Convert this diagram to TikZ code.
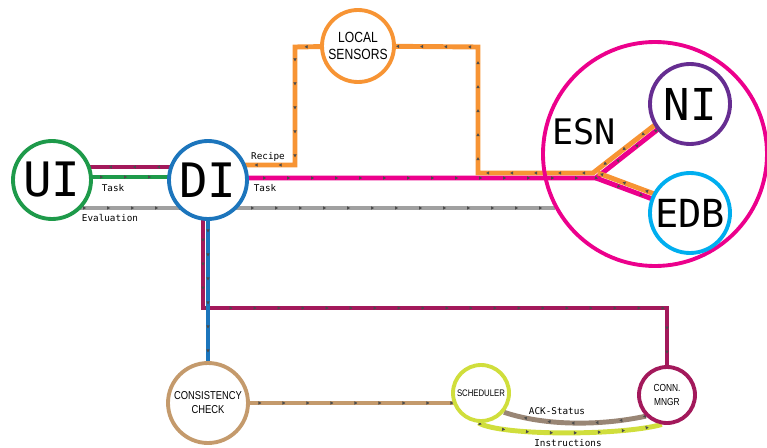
\documentclass[tikz,border=0pt]{standalone}
\usepackage{fontspec}
\setmonofont{DejaVu Sans Mono}
\newfontfamily\narrowfont[FakeStretch=0.82]{Liberation Sans}
\usetikzlibrary{arrows.meta, decorations.markings, backgrounds}
\definecolor{uigreen}{RGB}{30,154,74}
\definecolor{diblue}{RGB}{28,117,188}
\definecolor{lsorange}{RGB}{247,148,52}
\definecolor{esnpink}{RGB}{236,0,140}
\definecolor{maroon}{RGB}{163,25,91}
\definecolor{nipurple}{RGB}{102,45,145}
\definecolor{edbcyan}{RGB}{0,174,239}
\definecolor{evalgray}{RGB}{160,160,160}
\definecolor{cctan}{RGB}{196,154,108}
\definecolor{schlime}{RGB}{208,222,60}
\definecolor{ackbrown}{RGB}{153,134,117}
\tikzstyle{station} = [circle, draw, line width = 2.2pt, fill = white, text centered, inner sep = 0pt]
\tikzstyle{big} = [font = \ttfamily\fontsize{27}{27}\selectfont]
\tikzstyle{small} = [font = \narrowfont\fontsize{8.4}{9.4}\selectfont, align = center]
\tikzstyle{tag} = [font = \ttfamily\fontsize{5.3}{6}\selectfont, inner sep = 0pt]
\tikzstyle{flow} = [line width = 2.8pt, postaction = {decorate}, decoration = {markings, mark = between positions 0.02 and 1 step 4.8mm with {\arrow[black!70]{Triangle[length = 0.6mm, width = 0.65mm]}}}]

\begin{document}
\begin{tikzpicture}[x = 0.2mm, y = -0.2mm]
\useasboundingbox (0,0) rectangle (767,448);

% stations
\node (ESN) [circle, draw = esnpink, line width = 2.2pt, minimum size = 44.8mm] at (655,154) {};
\node (esnText) [font = \ttfamily\fontsize{20}{20}\selectfont] at (584,132) {ESN};
\node (UI) [station, big, draw = uigreen, minimum size = 15.6mm] at (52,180) {UI};
\node (DI) [station, big, draw = diblue, minimum size = 15.6mm] at (208,180) {DI};
\node (LS) [station, small, draw = lsorange, minimum size = 14.4mm] at (358,46) {LOCAL\\SENSORS};
\node (NI) [station, big, draw = nipurple, minimum size = 16mm, font = \ttfamily\fontsize{25}{25}\selectfont] at (690,104) {NI};
\node (EDB) [station, big, draw = edbcyan, minimum size = 16mm, font = \ttfamily\fontsize{22}{22}\selectfont] at (690,213) {EDB};
\node (CC) [station, small, draw = cctan, minimum size = 16mm, font = \narrowfont\fontsize{6.5}{8}\selectfont] at (208,403) {CONSISTENCY\\CHECK};
\node (SCH) [station, small, draw = schlime, minimum size = 11.2mm, font = \narrowfont\fontsize{5.4}{7}\selectfont] at (481,393) {SCHEDULER};
\node (CM) [station, small, draw = maroon, minimum size = 11.2mm, font = \narrowfont\fontsize{5.8}{8}\selectfont] at (667,395) {CONN.\\MNGR};
\coordinate (J) at (596,178);
\coordinate (evalEnd) at (555,208);

% lines
\begin{pgfonlayer}{background}
\draw [flow, maroon] ([yshift = 2.6mm]DI.center) -- ([yshift = 2.6mm]UI.center);
\draw [flow, uigreen] ([yshift = 0.6mm]UI.center) -- ([yshift = 0.6mm]DI.center);
\draw [flow, evalgray, line width = 2.2pt] ([yshift = -5.6mm]UI.center) -- (evalEnd);
\draw [flow, esnpink] ([yshift = 0.4mm]DI.center) -- (J) -- (NI.center);
\draw [flow, esnpink] (J) -- (EDB.center);
\draw [flow, lsorange] ([shift = {(-0.6mm,0.8mm)}]NI.center) -- (593,173) -- (478,173) -- (478,47) -- (LS.center);
\draw [flow, lsorange] ([shift = {(0.4mm,1mm)}]EDB.center) -- (598,173);
\draw [flow, lsorange] (LS.center) -- (295,47) -- (295,165) -- ([yshift = 3mm]DI.center);
\draw [flow, maroon] ([xshift = -1mm]DI.center) -- ++(0,128) -| (CM.center);
\draw [flow, diblue] (DI.center) -- (CC.center);
\draw [flow, cctan] (CC.center) -- (CC.center -| SCH.center);
\draw [flow, ackbrown] (CM.225) .. controls (600,426) and (545,426) .. (SCH.-40);
\draw [flow, schlime] (SCH.-95) .. controls (500,436) and (620,436) .. (CM.-100);
\end{pgfonlayer}

% labels
\node (taskUI) [tag] at (113,188) {Task};
\node (evalTag) [tag] at (110,218) {Evaluation};
\node (recipeTag) [tag] at (268,157) {Recipe};
\node (taskDI) [tag] at (265,188) {Task};
\node (ackTag) [tag] at (557,411) {ACK-Status};
\node (instrTag) [tag] at (568,443) {Instructions};
\end{tikzpicture}
\end{document}
